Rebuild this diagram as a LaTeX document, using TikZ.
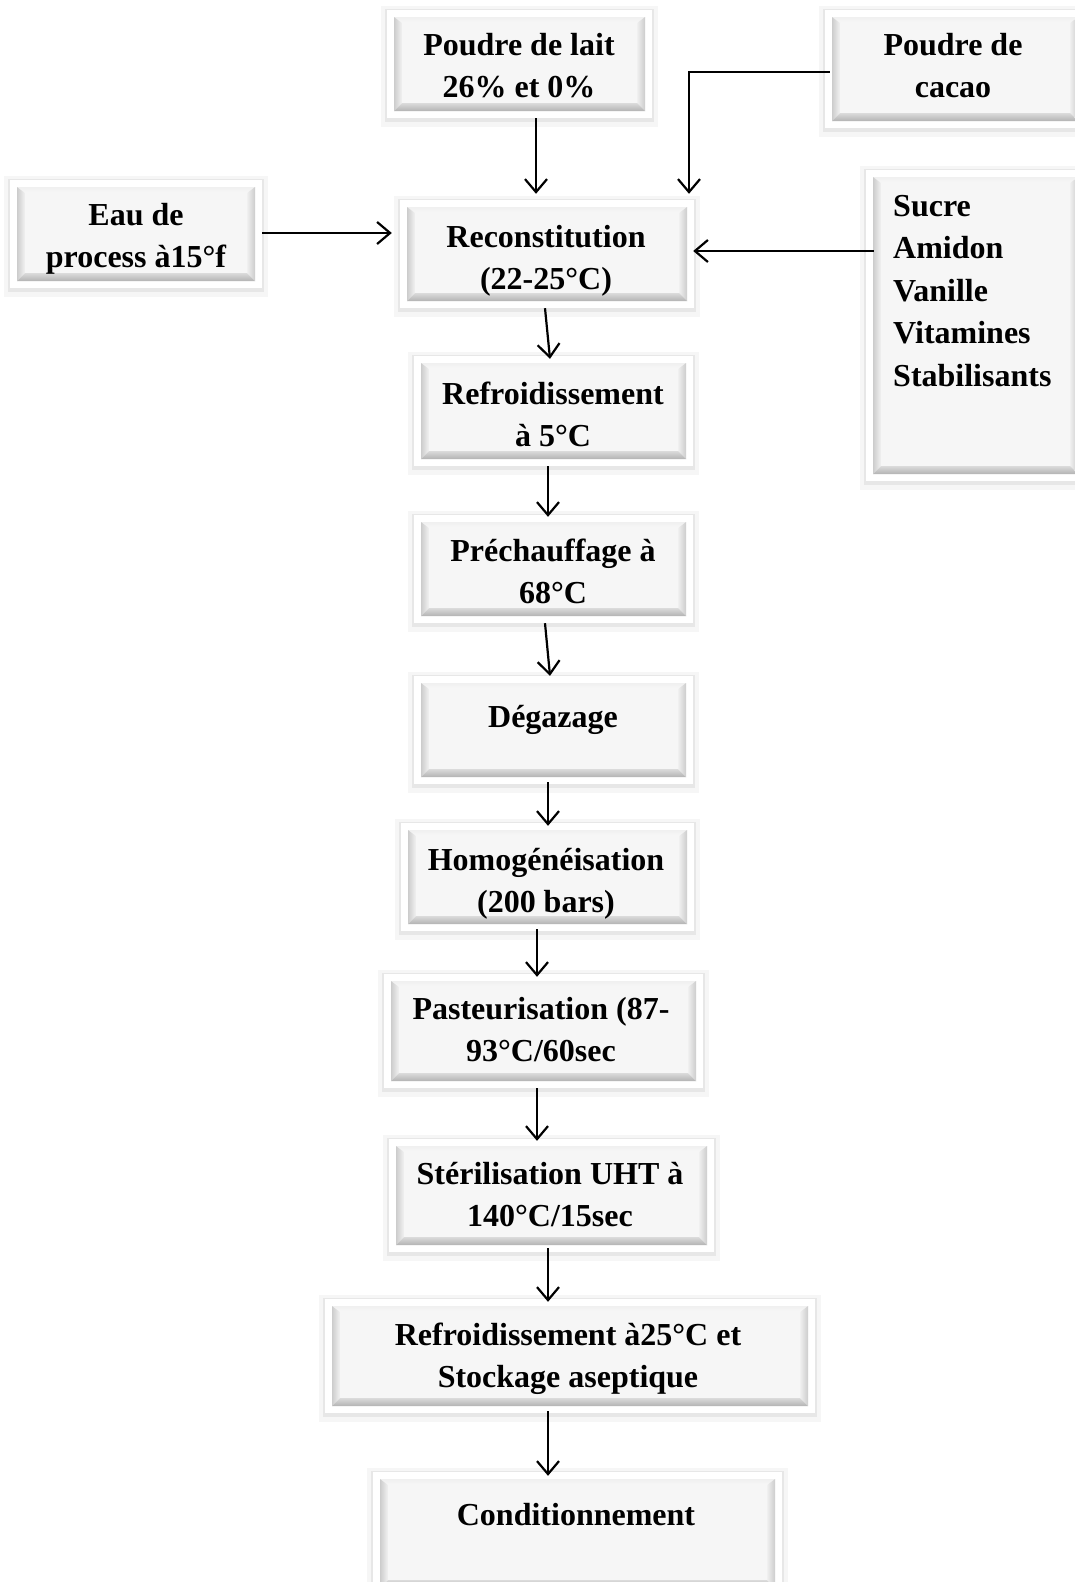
\documentclass[tikz,border=0pt]{standalone}
\usepackage{fontspec}
\setmainfont{Liberation Serif}
\usetikzlibrary{arrows.meta,calc,fit}
\tikzset{
  txt/.style={font=\bfseries\fontsize{32}{42.5}\selectfont, inner sep=0, align=center, anchor=base},
  arr/.style={line width=2.2pt, -{Straight Barb[length=13pt,width=22pt,line width=2.2pt]}},
}
\newcommand\bevbox[5]{%
  \begingroup
  \pgfmathsetmacro\ax{#2+7}\pgfmathsetmacro\ay{#3+7}%
  \pgfmathsetmacro\bx{#4-7}\pgfmathsetmacro\by{#5-7}%
  \pgfmathsetmacro\cx{#2+15}\pgfmathsetmacro\cy{#3+13}%
  \pgfmathsetmacro\dx{#4-15}\pgfmathsetmacro\dy{#5-15}%
  \fill[black,opacity=.035] (#2-6,#3-4) rectangle (#4+6,#5+9);
  \fill[black,opacity=.06] (#2-2,#3-1) rectangle (#4+2,#5+4);
  \fill[white] (#2,#3) rectangle (#4,#5);
  \shade[top color=gray!12,bottom color=gray!6] (\ax,\ay)--(\bx,\ay)--(\dx,\cy)--(\cx,\cy)--cycle;
  \shade[left color=gray!40,right color=gray!10] (\ax,\ay)--(\cx,\cy)--(\cx,\dy)--(\ax,\by)--cycle;
  \shade[left color=gray!12,right color=gray!40] (\bx,\ay)--(\dx,\cy)--(\dx,\dy)--(\bx,\by)--cycle;
  \shade[top color=gray!28,bottom color=gray!60] (\ax,\by)--(\cx,\dy)--(\dx,\dy)--(\bx,\by)--cycle;
  \fill[gray!7] (\cx,\cy) rectangle (\dx,\dy);
  \endgroup
  \node[inner sep=0pt, fit={(#2,#3) (#4,#5)}] (#1) {};
}
\begin{document}
\begin{tikzpicture}[x=1pt,y=-1pt]
\useasboundingbox[fill=white] (0,0) rectangle (1075,1582);

\bevbox{lait}{387}{10}{652}{118}
\bevbox{cacao}{825}{10}{1085}{128}
\bevbox{eau}{10}{180}{262}{288}
\bevbox{sucre}{866}{170}{1085}{481}
\bevbox{recon}{400}{200}{694}{308}
\bevbox{refr5}{414}{356}{693}{466}
\bevbox{prech}{414}{515}{693}{623}
\bevbox{degaz}{414}{676}{693}{784}
\bevbox{homog}{401}{823}{694}{931}
\bevbox{past}{384}{974}{703}{1088}
\bevbox{steril}{389}{1139}{714}{1252}
\bevbox{refr25}{325}{1299}{815}{1413}
\bevbox{condit}{373}{1472}{782}{1595}

\node[txt] (laitT) at (519,97.5) {Poudre de lait\\26\% et 0\%};
\node[txt] (cacaoT) at (953,97.5) {Poudre de\\cacao};
\node[txt] (eauT) at (136,267.5) {Eau de\\process à15°f};
\node[txt, align=left, anchor=base west] (sucreT) at (893,386) {Sucre\\Amidon\\Vanille\\Vitamines\\Stabilisants};
\node[txt] (reconT) at (546,289.5) {Reconstitution\\(22-25°C)};
\node[txt] (refr5T) at (553,446.5) {Refroidissement\\à 5°C};
\node[txt] (prechT) at (553,603.5) {Préchauffage à\\68°C};
\node[txt] (degazT) at (553,727) {Dégazage};
\node[txt] (homogT) at (546,912.5) {Homogénéisation\\(200 bars)};
\node[txt] (pastT) at (541,1061.5) {Pasteurisation (87-\\93°C/60sec};
\node[txt] (sterilT) at (550,1226.5) {Stérilisation UHT à\\140°C/15sec};
\node[txt] (refr25T) at (568,1387.5) {Refroidissement à25°C et\\Stockage aseptique};
\node[txt] (conditT) at (576,1525) {Conditionnement};

\draw[arr] ($(lait.south)+(16.5,0)$) -- ($(recon.north)+(-11,-6)$);
\draw[arr] ($(cacao.west)+(5,3)$) -| ($(recon.north)+(142,-6)$);
\draw[arr] ($(eau.east)+(0,-1)$) -- ($(recon.west)+(-8,-21)$);
\draw[arr] ($(sucre.west)+(8,-74.5)$) -- ($(recon.east)+(-1,-3)$);
\draw[arr] ($(recon.south)+(-2,0)$) -- ($(refr5.north)+(-3.5,3)$);
\draw[arr] ($(refr5.south)+(-5.5,0)$) -- ($(prech.north)+(-5.5,2)$);
\draw[arr] ($(prech.south)+(-8.5,0)$) -- ($(degaz.north)+(-3.5,0)$);
\draw[arr] ($(degaz.south)+(-5.5,-2)$) -- ($(homog.north)+(0.5,3)$);
\draw[arr] ($(homog.south)+(-10.5,-2)$) -- ($(past.north)+(-6.5,3)$);
\draw[arr] ($(past.south)+(-6.5,0)$) -- ($(steril.north)+(-14.5,2)$);
\draw[arr] ($(steril.south)+(-3.5,-4)$) -- ($(refr25.north)+(-22,3)$);
\draw[arr] ($(refr25.south)+(-22,-2)$) -- ($(condit.north)+(-29.5,4)$);
\end{tikzpicture}
\end{document}
